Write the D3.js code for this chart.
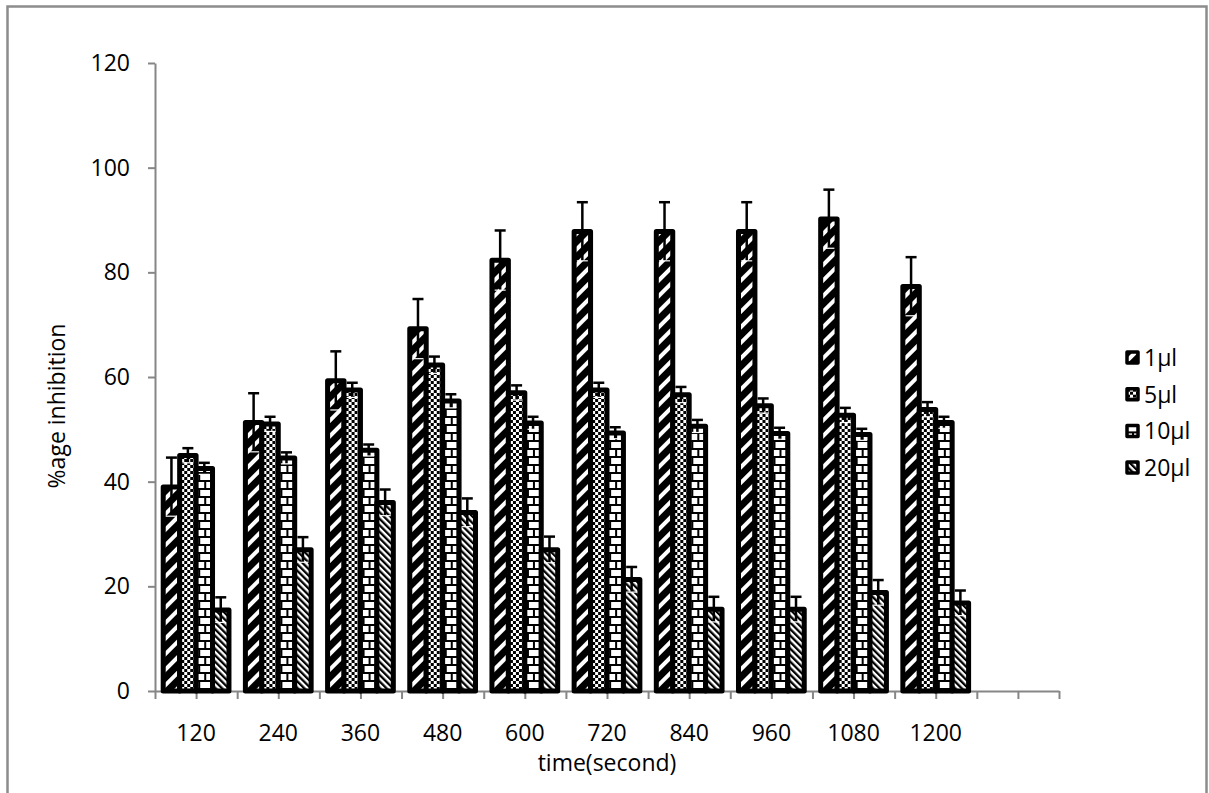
<!DOCTYPE html>
<html>
<head>
<meta charset="utf-8">
<script src="https://cdn.jsdelivr.net/npm/d3@7"></script>
<style>
  html, body { margin: 0; padding: 0; background: #fff; }
  svg text { font-family: "Open Sans", "Noto Sans", sans-serif; fill: #000; }
</style>
</head>
<body>
<svg id="chart" width="1209" height="793"></svg>
<script>
// Inhibition (%) over time for four dose volumes
const categories = ["120", "240", "360", "480", "600", "720", "840", "960", "1080", "1200"];
const seriesNames = ["1μl", "5μl", "10μl", "20μl"];

const vals1 = [39.0, 51.3, 59.3, 69.2, 82.3, 87.8, 87.8, 87.8, 90.2, 77.3];
const vals5 = [45.0, 51.0, 57.5, 62.3, 57.0, 57.5, 56.6, 54.5, 52.7, 53.8];
const vals10 = [42.5, 44.5, 46.0, 55.4, 51.2, 49.3, 50.6, 49.2, 49.0, 51.3];
const vals20 = [15.5, 27.0, 36.0, 34.1, 27.0, 21.3, 15.6, 15.6, 18.8, 16.8];

const err1 = [5.6, 5.6, 5.6, 5.7, 5.7, 5.6, 5.6, 5.6, 5.6, 5.6];
const err5 = [1.4, 1.4, 1.4, 1.6, 1.4, 1.4, 1.5, 1.4, 1.4, 1.4];
const err10 = [1.1, 1.1, 1.1, 1.3, 1.2, 1.1, 1.2, 1.1, 1.1, 1.1];
const err20 = [2.4, 2.4, 2.5, 2.7, 2.5, 2.4, 2.4, 2.4, 2.4, 2.4];

const yTicks = [0, 20, 40, 60, 80, 100, 120];

const valueSets = [vals1, vals5, vals10, vals20];
const errorSets = [err1, err5, err10, err20];

const svg = d3.select("#chart");
const defs = svg.append("defs");

// Fill patterns: wide upward diagonal, small checker, horizontal brick, dense downward diagonal
const p1 = defs.append("pattern").attr("id", "pat0").attr("patternUnits", "userSpaceOnUse")
  .attr("width", 11).attr("height", 11).attr("patternTransform", "rotate(45)");
p1.append("rect").attr("width", 11).attr("height", 11).attr("fill", "#000");
p1.append("rect").attr("x", 0).attr("width", 4).attr("height", 11).attr("fill", "#fff");

const p2 = defs.append("pattern").attr("id", "pat1").attr("patternUnits", "userSpaceOnUse")
  .attr("width", 6).attr("height", 6);
p2.append("rect").attr("width", 6).attr("height", 6).attr("fill", "#fff");
p2.append("rect").attr("x", 0).attr("y", 0).attr("width", 3).attr("height", 3).attr("fill", "#000");
p2.append("rect").attr("x", 3).attr("y", 3).attr("width", 3).attr("height", 3).attr("fill", "#000");

const p3 = defs.append("pattern").attr("id", "pat2").attr("patternUnits", "userSpaceOnUse")
  .attr("width", 12).attr("height", 16);
p3.append("rect").attr("width", 12).attr("height", 16).attr("fill", "#fff");
p3.append("rect").attr("x", 0).attr("y", 0).attr("width", 12).attr("height", 2).attr("fill", "#000");
p3.append("rect").attr("x", 0).attr("y", 8).attr("width", 12).attr("height", 2).attr("fill", "#000");
p3.append("rect").attr("x", 5).attr("y", 0).attr("width", 2).attr("height", 8).attr("fill", "#000");
p3.append("rect").attr("x", 0).attr("y", 8).attr("width", 1).attr("height", 8).attr("fill", "#000");
p3.append("rect").attr("x", 11).attr("y", 8).attr("width", 1).attr("height", 8).attr("fill", "#000");

const p4 = defs.append("pattern").attr("id", "pat3").attr("patternUnits", "userSpaceOnUse")
  .attr("width", 4.6).attr("height", 4.6).attr("patternTransform", "rotate(-45)");
p4.append("rect").attr("width", 4.6).attr("height", 4.6).attr("fill", "#fff");
p4.append("rect").attr("x", 0).attr("width", 2.3).attr("height", 4.6).attr("fill", "#000");

// Outer chart frame
svg.append("rect")
  .attr("x", 7.5).attr("y", 6.5).attr("width", 1199).attr("height", 820)
  .attr("fill", "none").attr("stroke", "#8c8c8c").attr("stroke-width", 2.5);

const plot = { left: 155, right: 1059, top: 63, bottom: 691 };

// One empty slot after the last time point
const slots = [...categories, ""];
const x0 = d3.scaleBand().domain(d3.range(slots.length)).range([plot.left, plot.right]).padding(0);
const groupWidth = x0.bandwidth() * 0.8;
const x1 = d3.scaleBand().domain(d3.range(seriesNames.length)).range([0, groupWidth]).padding(0);
const y = d3.scaleLinear().domain([0, 120]).range([plot.bottom, plot.top]);

const axisColor = "#868686";

// Y axis
const yAxis = svg.append("g")
  .attr("transform", `translate(${plot.left},0)`)
  .call(d3.axisLeft(y).tickValues(yTicks).tickSize(7).tickSizeOuter(0).tickPadding(18));
yAxis.select(".domain").attr("stroke", axisColor).attr("stroke-width", 2);
yAxis.selectAll(".tick line").attr("stroke", axisColor).attr("stroke-width", 2);
yAxis.selectAll(".tick text").style("font-size", "23px").attr("fill", "#000")
  .style("font-family", "'Open Sans', sans-serif");

// X axis: tick marks at every half slot
const xLin = d3.scaleLinear().domain([0, slots.length]).range([plot.left, plot.right]);
const xAxis = svg.append("g")
  .attr("transform", `translate(0,${plot.bottom})`)
  .call(d3.axisBottom(xLin).tickValues(d3.range(0, slots.length + 0.01, 0.5))
    .tickFormat("").tickSize(8).tickSizeOuter(0));
xAxis.select(".domain").attr("stroke", axisColor).attr("stroke-width", 2);
xAxis.selectAll(".tick line").attr("stroke", axisColor).attr("stroke-width", 2);

svg.append("g").selectAll("text").data(categories).join("text")
  .attr("x", (d, i) => x0(i) + x0.bandwidth() / 2)
  .attr("y", 741)
  .attr("text-anchor", "middle")
  .style("font-size", "23px")
  .text(d => d);

// Axis titles
svg.append("text")
  .attr("x", (plot.left + plot.right) / 2)
  .attr("y", 771)
  .attr("text-anchor", "middle")
  .style("font-size", "23px")
  .text("time(second)");

svg.append("text")
  .attr("transform", "translate(65,406) rotate(-90)")
  .attr("text-anchor", "middle")
  .style("font-size", "23px")
  .text("%age inhibition");

// Bars
const barStroke = 5;
const groups = svg.append("g").selectAll("g").data(categories).join("g")
  .attr("transform", (d, i) => `translate(${x0(i) + (x0.bandwidth() - groupWidth) / 2},0)`);

groups.each(function (cat, ci) {
  const g = d3.select(this);
  const rows = seriesNames.map((s, si) => ({ si, v: valueSets[si][ci], e: errorSets[si][ci] }));
  g.selectAll("rect.bar").data(rows).join("rect")
    .attr("class", "bar")
    .attr("x", d => x1(d.si))
    .attr("y", d => y(d.v))
    .attr("width", x1.bandwidth())
    .attr("height", d => y(0) - y(d.v))
    .attr("fill", d => `url(#pat${d.si})`)
    .attr("stroke", "#000")
    .attr("stroke-width", barStroke)
    .attr("stroke-linejoin", "round");

  const eb = g.selectAll("g.err").data(rows).join("g").attr("class", "err")
    .attr("stroke", "#000").attr("stroke-width", 2.5);
  const cx = d => x1(d.si) + x1.bandwidth() / 2;
  eb.append("line")
    .attr("x1", cx).attr("x2", cx)
    .attr("y1", d => y(d.v - d.e)).attr("y2", d => y(d.v + d.e));
  eb.append("line")
    .attr("x1", d => cx(d) - 5.5).attr("x2", d => cx(d) + 5.5)
    .attr("y1", d => y(d.v + d.e)).attr("y2", d => y(d.v + d.e));
  eb.append("line")
    .attr("x1", d => cx(d) - 5.5).attr("x2", d => cx(d) + 5.5)
    .attr("y1", d => y(d.v - d.e)).attr("y2", d => y(d.v - d.e))
    .attr("stroke", "#fff").attr("stroke-width", 1.2);
});

// Legend
const legend = svg.append("g").selectAll("g").data(seriesNames).join("g")
  .attr("transform", (d, i) => `translate(1127,${358 + i * 36.7})`);
legend.append("rect")
  .attr("x", 0).attr("y", -6).attr("width", 11).attr("height", 11)
  .attr("fill", (d, i) => `url(#pat${i})`)
  .attr("stroke", "#000").attr("stroke-width", 3.5)
  .attr("stroke-linejoin", "round");
legend.append("text")
  .attr("x", 17).attr("y", 0)
  .attr("dy", "0.35em")
  .style("font-size", "23px")
  .text(d => d);
</script>
</body>
</html>
